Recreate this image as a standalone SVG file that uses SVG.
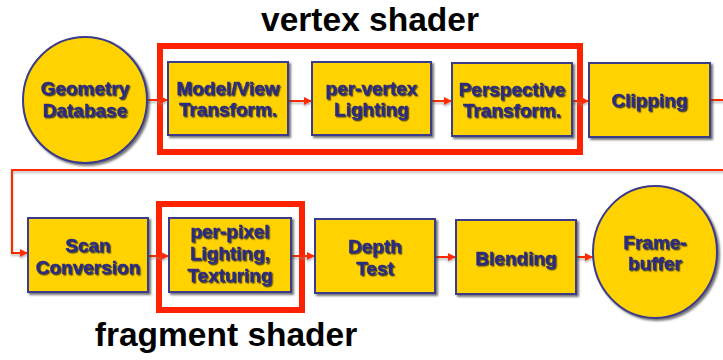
<svg xmlns="http://www.w3.org/2000/svg" width="723" height="360" viewBox="0 0 723 360">
  <defs>
    <filter id="boxShadow" x="-10%" y="-10%" width="125%" height="125%">
      <feDropShadow dx="2" dy="2" stdDeviation="0.8" flood-color="#444" flood-opacity="0.75"/>
    </filter>
    <filter id="textShadow" x="-10%" y="-20%" width="125%" height="150%">
      <feDropShadow dx="1.3" dy="1.3" stdDeviation="0.4" flood-color="#222" flood-opacity="0.8"/>
    </filter>
    <!-- user-space region so flat horizontal wires still render -->
    <filter id="lineShadow" filterUnits="userSpaceOnUse" x="0" y="0" width="740" height="360">
      <feDropShadow dx="0" dy="2" stdDeviation="1" flood-color="#888" flood-opacity="0.6"/>
    </filter>
    <marker id="arrow" viewBox="0 0 10 10" refX="10" refY="5" markerWidth="4" markerHeight="4" markerUnits="strokeWidth" orient="auto">
      <path d="M0,0 L10,5 L0,10 z" fill="#ff2a00"/>
    </marker>
  </defs>
  <style>
    .node { fill: #ffd200; stroke: #3a3a8c; stroke-width: 2; filter: url(#boxShadow); }
    .label { font-family: "Liberation Sans", Arial, sans-serif; font-weight: bold; font-size: 19px; fill: #2b2b80; stroke: #2b2b80; stroke-width: 0.35; text-anchor: middle; filter: url(#textShadow); }
    .title { font-family: "Liberation Sans", Arial, sans-serif; font-weight: bold; font-size: 33.5px; fill: #000; text-anchor: middle; }
    .group { fill: none; stroke: #ff2200; stroke-width: 6; }
    .wire { fill: none; stroke: #ff2a00; stroke-width: 2; marker-end: url(#arrow); }
  </style>

  <rect width="723" height="360" fill="#ffffff"/>

  <!-- shader stage frames -->
  <rect class="group" x="160" y="46" width="420" height="106"/>
  <rect class="group" x="159" y="204" width="143" height="106"/>
  <text class="title" x="370" y="31">vertex shader</text>
  <text class="title" x="226" y="346">fragment shader</text>

  <!-- connectors -->
  <g id="connectors" filter="url(#lineShadow)">
    <path class="wire" d="M147,100 H168"/>
    <path class="wire" d="M288,101 H312"/>
    <path class="wire" d="M431,101 H452"/>
    <path class="wire" d="M572,101 H589"/>
    <path class="wire" d="M710,100 H728 V170 H12 V253 H28"/>
    <path class="wire" d="M148,256 H169"/>
    <path class="wire" d="M291,256 H315"/>
    <path class="wire" d="M435,257 H456"/>
    <path class="wire" d="M576,257 H593"/>
  </g>

  <!-- top row -->
  <g id="geometry-database">
    <ellipse class="node" cx="85" cy="100" rx="62" ry="63"/>
    <text class="label" x="85" y="95">Geometry</text>
    <text class="label" x="85" y="117">Database</text>
  </g>
  <g id="model-view">
    <rect class="node" x="168" y="62" width="120" height="73"/>
    <text class="label" x="228" y="95">Model/View</text>
    <text class="label" x="228" y="116">Transform.</text>
  </g>
  <g id="per-vertex">
    <rect class="node" x="312" y="62" width="119" height="73"/>
    <text class="label" x="371.5" y="95">per-vertex</text>
    <text class="label" x="371.5" y="116">Lighting</text>
  </g>
  <g id="perspective">
    <rect class="node" x="452" y="63" width="120" height="73"/>
    <text class="label" x="512" y="96">Perspective</text>
    <text class="label" x="512" y="117">Transform.</text>
  </g>
  <g id="clipping">
    <rect class="node" x="589" y="63" width="121" height="74"/>
    <text class="label" x="649.5" y="107">Clipping</text>
  </g>

  <!-- bottom row -->
  <g id="scan-conversion">
    <rect class="node" x="28" y="218" width="120" height="74"/>
    <text class="label" x="88" y="252">Scan</text>
    <text class="label" x="88" y="274">Conversion</text>
  </g>
  <g id="per-pixel">
    <rect class="node" x="169" y="218" width="122" height="74"/>
    <text class="label" x="230" y="238">per-pixel</text>
    <text class="label" x="230" y="260">Lighting,</text>
    <text class="label" x="230" y="282">Texturing</text>
  </g>
  <g id="depth-test">
    <rect class="node" x="315" y="219" width="120" height="74"/>
    <text class="label" x="375" y="253">Depth</text>
    <text class="label" x="375" y="275">Test</text>
  </g>
  <g id="blending">
    <rect class="node" x="456" y="220" width="120" height="74"/>
    <text class="label" x="516" y="265">Blending</text>
  </g>
  <g id="frame-buffer">
    <ellipse class="node" cx="655" cy="252" rx="62" ry="66"/>
    <text class="label" x="655" y="249">Frame-</text>
    <text class="label" x="655" y="270">buffer</text>
  </g>
</svg>
